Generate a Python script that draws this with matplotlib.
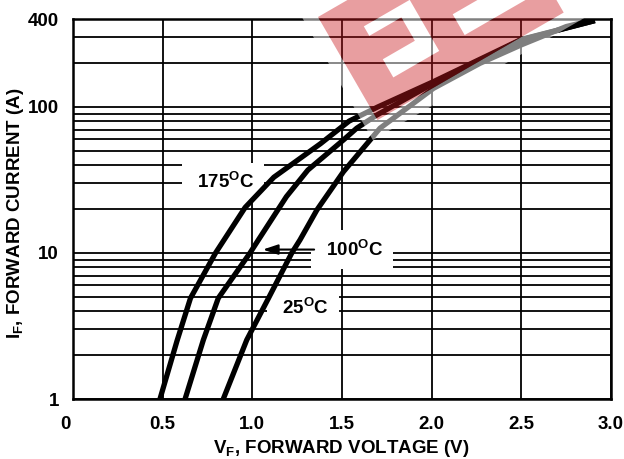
import numpy as np
import matplotlib
matplotlib.use("Agg")
import matplotlib.pyplot as plt
from matplotlib.path import Path
from matplotlib.patches import PathPatch
from matplotlib.transforms import IdentityTransform, ScaledTranslation

plt.rcParams['font.family'] = ['Liberation Sans', 'DejaVu Sans']
plt.rcParams['font.weight'] = 'bold'
plt.rcParams['mathtext.fontset'] = 'custom'
plt.rcParams['mathtext.rm'] = 'Liberation Sans:bold'
plt.rcParams['mathtext.it'] = 'Liberation Sans:bold'
plt.rcParams['mathtext.bf'] = 'Liberation Sans:bold'

# ---- data ----
v_175 = [0.485, 0.58, 0.655, 0.795, 0.96, 1.12, 1.38, 1.54, 1.70, 2.01, 2.50, 2.91]
i_175 = [1, 2.5, 4.9, 10, 20.5, 33, 56, 80, 100, 149, 290, 390]

v_100 = [0.625, 0.727, 0.81, 0.987, 1.034, 1.19, 1.31, 1.508, 1.582, 1.694, 2.01, 2.50, 2.91]
i_100 = [1, 2.54, 4.9, 10, 12.3, 24.3, 37, 59.4, 71.5, 88, 145, 288, 390]

v_25 = [0.838, 0.969, 1.09, 1.22, 1.266, 1.36, 1.508, 1.712, 2.01, 2.27, 2.50, 2.75, 2.865]
i_25 = [1, 2.54, 4.9, 10, 12.3, 19.7, 36, 71.5, 134, 199, 266, 355, 384]

x_ticks = [0, 0.5, 1.0, 1.5, 2.0, 2.5, 3.0]
x_tick_labels = ['0', '0.5', '1.0', '1.5', '2.0', '2.5', '3.0']
y_ticks = [1, 10, 100, 400]
y_tick_labels = ['1', '10', '100', '400']
y_minor = [2, 3, 4, 5, 6, 7, 8, 9, 20, 30, 40, 50, 60, 70, 80, 90, 200, 300]

fig = plt.figure(figsize=(6.24, 4.59), dpi=100)
ax = fig.add_axes([73/624, 60/459, 538/624, 380/459])
ax.set_yscale('log')
ax.set_xlim(0, 3.0)
ax.set_ylim(1, 400)
ax.set_xticks(x_ticks)
ax.set_xticklabels(x_tick_labels)
ax.set_yticks(y_ticks)
ax.set_yticklabels(y_tick_labels)
ax.set_yticks(y_minor, minor=True)
ax.yaxis.set_minor_formatter(plt.NullFormatter())
ax.tick_params(which='both', length=0, labelsize=13.5)
ax.tick_params(axis='x', pad=12)
ax.tick_params(axis='y', pad=10)
ax.grid(which='both', color='black', lw=1.3, zorder=1)
ax.set_axisbelow(True)
for s in ax.spines.values():
    s.set_linewidth(1.8)
    s.set_zorder(6)

# shift the "0" label to the left like the reference
lbl0 = ax.get_xticklabels()[0]
lbl0.set_transform(lbl0.get_transform() + ScaledTranslation(-8/100, 0, fig.dpi_scale_trans))

for v, i in [(v_175, i_175), (v_100, i_100), (v_25, i_25)]:
    ax.plot(v, i, color='black', lw=3.8, solid_joinstyle='round', solid_capstyle='butt', zorder=4)

bbox = dict(boxstyle='square,pad=0.5', fc='white', ec='none')
ax.text(0.837, 30.5, ' 175$^{\\mathrm{O}}$C ', fontsize=13.5, ha='center', va='center', bbox=bbox, zorder=3)
ax.text(1.556, 10.5, ' 100$^{\\mathrm{O}}$C ', fontsize=13.5, ha='center', va='center', bbox=bbox, zorder=3)
ax.text(1.283, 4.2, ' 25$^{\\mathrm{O}}$C ', fontsize=13.5, ha='center', va='center', bbox=bbox, zorder=3)
ax.annotate('', xy=(1.043, 10.55), xytext=(1.36, 10.55),
            arrowprops=dict(arrowstyle='-|>,head_length=0.9,head_width=0.3', color='black', lw=1.5),
            zorder=5)

fig.text(341/624, (459-453)/459, 'V$_{\\mathrm{F}}$, FORWARD VOLTAGE (V)', fontsize=13.5,
         ha='center', va='baseline')
fig.text(16/624, (459-213)/459, 'I$_{\\mathrm{F}}$, FORWARD CURRENT (A)', fontsize=13.5,
         ha='center', va='center', rotation=90)

# ---- watermark (rotated logo) in pixel coordinates ----
H_IMG = 459
ang = np.deg2rad(30)
cu = np.array([np.cos(ang), -np.sin(ang)])
cv = np.array([np.sin(ang), np.cos(ang)])
A = np.array([318.0, 17.0])

def uv(points):
    out = []
    for u, v in points:
        p = A + u * cu + v * cv
        out.append((p[0], H_IMG - p[1]))
    return np.array(out)

def ring(points, ccw=True):
    p = uv(points)
    area = 0.5 * np.sum(p[:, 0] * np.roll(p[:, 1], -1) - np.roll(p[:, 0], -1) * p[:, 1])
    if (area > 0) != ccw:
        p = p[::-1]
    return p

def rect(u0, u1, v0, v1):
    return [(u0, v0), (u1, v0), (u1, v1), (u0, v1)]

def compound(rings):
    verts, codes = [], []
    for r in rings:
        verts.extend(list(r) + [r[0]])
        codes.extend([Path.MOVETO] + [Path.LINETO] * (len(r) - 1) + [Path.CLOSEPOLY])
    return Path(np.array(verts), codes)

red_rect = rect(0, 215, 0, 119)
halo_rect = rect(-14, 232, -14, 134)
shape1 = [(35, 31), (88, 31), (88, 90), (35, 90), (35, 69), (72, 69), (72, 42), (35, 42)]
shape2 = rect(118, 205, 65, 89)

halo = compound([ring(halo_rect, True), ring(red_rect, False), ring(shape1, True), ring(shape2, True)])
red = compound([ring(red_rect, True), ring(shape1, False), ring(shape2, False)])

fig.add_artist(PathPatch(halo, transform=IdentityTransform(), fc='white', ec='none', alpha=0.5, zorder=10))
fig.add_artist(PathPatch(red, transform=IdentityTransform(), fc=(0.79, 0.094, 0.114), ec='none', alpha=0.42, zorder=11))

fig.savefig('out.png', dpi=100)
